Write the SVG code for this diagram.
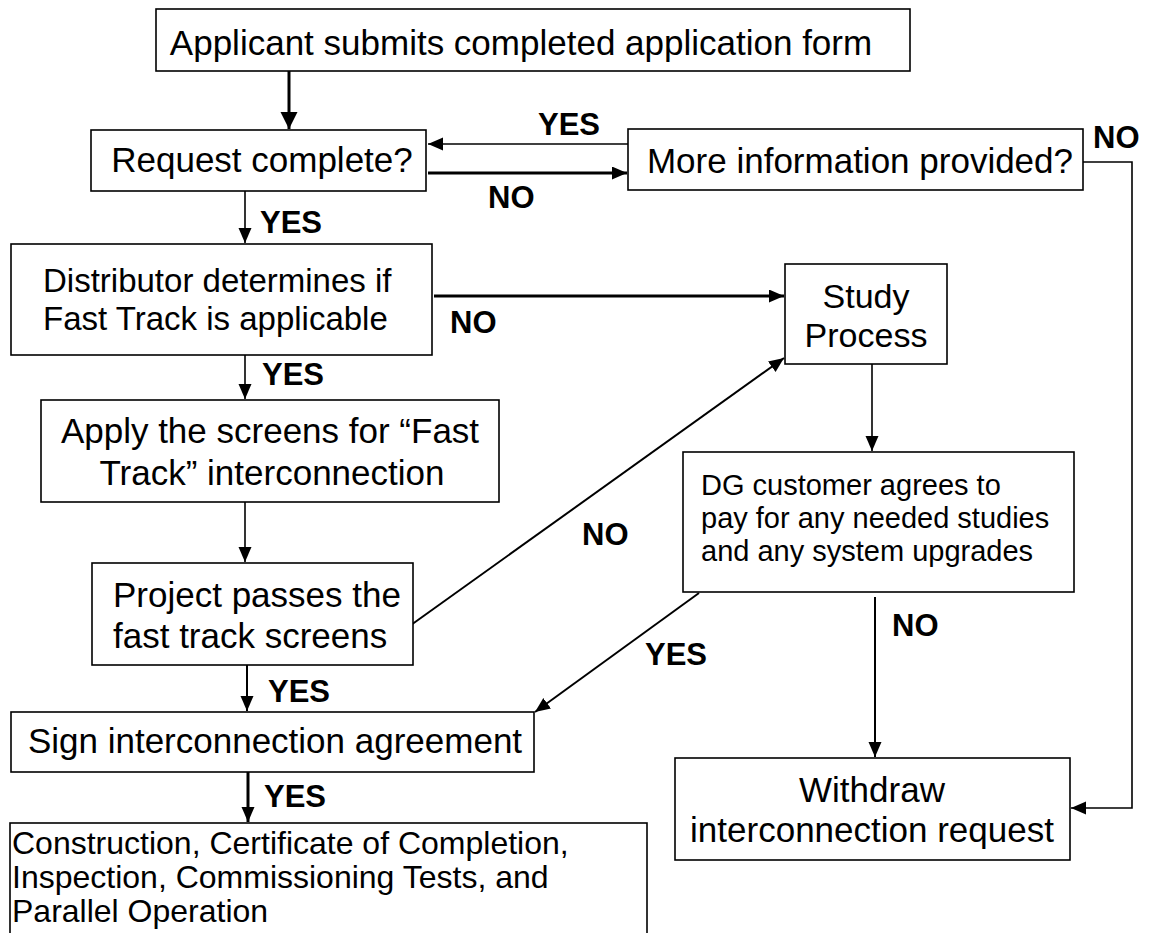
<svg xmlns="http://www.w3.org/2000/svg" width="1149" height="933" viewBox="0 0 1149 933">
<style>
.box{fill:#fff;stroke:#000;stroke-width:1.6}
.t{font-family:"Liberation Sans",Arial,sans-serif;font-size:35px;fill:#000}
.m{text-anchor:middle}
.lbl{font-family:"Liberation Sans",Arial,sans-serif;font-size:31px;font-weight:bold;fill:#000}
.c{fill:none;stroke:#000;stroke-width:1.6}
.k{stroke-width:3}
.d{stroke-width:2}
</style>
<defs>
<marker id="ah" markerUnits="userSpaceOnUse" markerWidth="16" markerHeight="14" refX="15" refY="6.5" orient="auto">
<path d="M0,0 L15,6.5 L0,13 z" fill="#000"/>
</marker>
<marker id="ahb" markerUnits="userSpaceOnUse" markerWidth="18" markerHeight="18" refX="17" refY="8.5" orient="auto">
<path d="M0,0 L17,8.5 L0,17 z" fill="#000"/>
</marker>
</defs>
<rect width="1149" height="933" fill="#fff"/>
<g id="connectors">
<path class="c k" d="M289,71 V129" marker-end="url(#ahb)"/>
<path class="c" d="M628,144 H428" marker-end="url(#ah)"/>
<path class="c k" d="M428,173 H627" marker-end="url(#ah)"/>
<path class="c" d="M1083,162 H1132 V808 H1071" marker-end="url(#ah)"/>
<path class="c" d="M245,172 V243" marker-end="url(#ah)"/>
<path class="c k" d="M434,296 H784" marker-end="url(#ah)"/>
<path class="c" d="M245,355 V399" marker-end="url(#ah)"/>
<path class="c" d="M245,502 V562" marker-end="url(#ah)"/>
<path class="c d" d="M411,625 L784,358" marker-end="url(#ah)"/>
<path class="c" d="M872,364 V451" marker-end="url(#ah)"/>
<path class="c d" d="M875,597 V757" marker-end="url(#ah)"/>
<path class="c d" d="M699,593 L535,712" marker-end="url(#ah)"/>
<path class="c d" d="M247,665 V711" marker-end="url(#ah)"/>
<path class="c k" d="M248,772 V822" marker-end="url(#ah)"/>
<text class="lbl" x="538" y="135">YES</text>
<text class="lbl" x="488" y="208">NO</text>
<text class="lbl" x="1093" y="148">NO</text>
<text class="lbl" x="260" y="233">YES</text>
<text class="lbl" x="450" y="333">NO</text>
<text class="lbl" x="262" y="385">YES</text>
<text class="lbl" x="582" y="545">NO</text>
<text class="lbl" x="892" y="636">NO</text>
<text class="lbl" x="645" y="665">YES</text>
<text class="lbl" x="268" y="702">YES</text>
<text class="lbl" x="264" y="807">YES</text>
</g>
<g id="n-applicant">
<rect class="box" x="156" y="9" width="754" height="62"/>
<text class="t m" x="521" y="55">Applicant submits completed application form</text>
</g>
<g id="n-request">
<rect class="box" x="91" y="130" width="335" height="61"/>
<text class="t m" x="262" y="172">Request complete?</text>
</g>
<g id="n-moreinfo">
<rect class="box" x="628" y="129" width="455" height="61"/>
<text class="t m" x="860" y="173">More information provided?</text>
</g>
<g id="n-distributor">
<rect class="box" x="11" y="244" width="421" height="111"/>
<text class="t" style="font-size:33px" x="43" y="292">Distributor determines if</text>
<text class="t" style="font-size:33px" x="43" y="330">Fast Track is applicable</text>
</g>
<g id="n-apply">
<rect class="box" x="41" y="400" width="458" height="102"/>
<text class="t m" x="270" y="443">Apply the screens for “Fast</text>
<text class="t m" x="272" y="485">Track” interconnection</text>
</g>
<g id="n-project">
<rect class="box" x="92" y="563" width="321" height="102"/>
<text class="t" x="113" y="607">Project passes the</text>
<text class="t" x="113" y="648">fast track screens</text>
</g>
<g id="n-study">
<rect class="box" x="785" y="264" width="162" height="100"/>
<text class="t m" style="font-size:34px" x="866" y="308">Study</text>
<text class="t m" style="font-size:34px" x="866" y="347">Process</text>
</g>
<g id="n-dg">
<rect class="box" x="683" y="452" width="391" height="140"/>
<text class="t" style="font-size:29px" x="701" y="495">DG customer agrees to</text>
<text class="t" style="font-size:29px" x="701" y="528">pay for any needed studies</text>
<text class="t" style="font-size:29px" x="701" y="561">and any system upgrades</text>
</g>
<g id="n-sign">
<rect class="box" x="11" y="712" width="523" height="60"/>
<text class="t m" x="275" y="753">Sign interconnection agreement</text>
</g>
<g id="n-construction">
<rect class="box" x="10" y="823" width="637" height="112"/>
<text class="t" style="font-size:32px" x="12" y="854">Construction, Certificate of Completion,</text>
<text class="t" style="font-size:32px" x="12" y="888">Inspection, Commissioning Tests, and</text>
<text class="t" style="font-size:32px" x="12" y="922">Parallel Operation</text>
</g>
<g id="n-withdraw">
<rect class="box" x="675" y="758" width="395" height="102"/>
<text class="t m" x="872" y="802">Withdraw</text>
<text class="t m" x="872" y="842">interconnection request</text>
</g>
</svg>
